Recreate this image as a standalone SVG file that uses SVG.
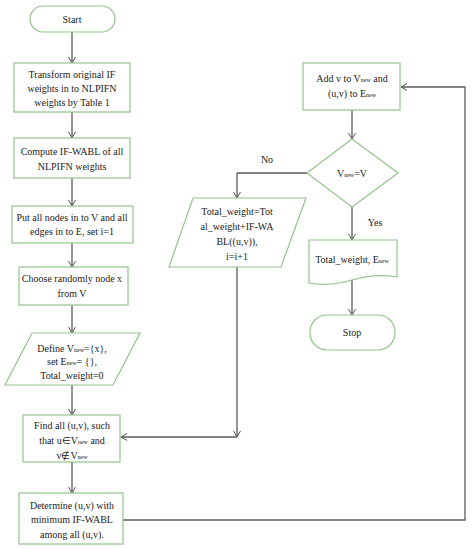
<svg xmlns="http://www.w3.org/2000/svg" width="474" height="549" viewBox="0 0 474 549">
<defs>
<marker id="arr" markerWidth="10" markerHeight="10" refX="7" refY="4" orient="auto" markerUnits="userSpaceOnUse">
<path d="M1,0.5 L7,4 L1,7.5" fill="none" stroke="#555" stroke-width="1"/>
</marker>
<style>
.n{fill:#fff;stroke:#92c48a;stroke-width:1.2}
.c{fill:none;stroke:#5a5a5a;stroke-width:1.3}
.a{marker-end:url(#arr)}
text{font-family:"Liberation Serif",serif;font-size:10px;fill:#222;text-anchor:middle}
.s{font-size:6px}
</style>
</defs>
<rect width="474" height="549" fill="#fff"/>
<g id="connectors">
<path class="c a" d="M72,32 V63"/>
<path class="c a" d="M72,112 V138"/>
<path class="c a" d="M72,178 V206"/>
<path class="c a" d="M72,243 V267"/>
<path class="c a" d="M72,305 V333"/>
<path class="c a" d="M72,385 V415"/>
<path class="c a" d="M72,462 V493"/>
<path class="c" d="M123,520 H465 V88"/>
<path class="c a" d="M465,88 V87 H401"/>
<path class="c a" d="M352,110 V139"/>
<path class="c" d="M307,173 H237"/>
<path class="c a" d="M237,173 V198"/>
<path class="c a" d="M237,267 V437"/>
<path class="c a" d="M237,437 H121"/>
<path class="c a" d="M352,207 V240"/>
<path class="c a" d="M352,280 V315"/>
</g>
<g id="start">
<rect class="n" x="30" y="6" width="85" height="26" rx="13"/>
<text x="72" y="23">Start</text>
</g>
<g id="transform">
<rect class="n" x="14" y="63" width="116" height="49"/>
<text x="72" y="78">Transform original IF</text>
<text x="72" y="92">weights in to NLPIFN</text>
<text x="72" y="106">weights by Table 1</text>
</g>
<g id="compute">
<rect class="n" x="14" y="138" width="116" height="40"/>
<text x="72" y="155">Compute IF-WABL of all</text>
<text x="72" y="170">NLPIFN weights</text>
</g>
<g id="putall">
<rect class="n" x="12" y="206" width="121" height="37"/>
<text x="72" y="221">Put all nodes in to V and all</text>
<text x="72" y="235">edges in to E, set i=1</text>
</g>
<g id="choose">
<rect class="n" x="19" y="267" width="109" height="38"/>
<text x="72" y="282">Choose randomly node x</text>
<text x="72" y="297">from V</text>
</g>
<g id="define">
<polygon class="n" points="32,333 140,333 113,385 5,385"/>
<text x="72" y="352">Define V<tspan class="s">new</tspan>={x},</text>
<text x="72" y="365">set E<tspan class="s">new</tspan>= {},</text>
<text x="72" y="379">Total_weight=0</text>
</g>
<g id="findall">
<rect class="n" x="23" y="415" width="97" height="47"/>
<text x="72" y="429">Find all (u,v), such</text>
<text x="72" y="444">that u∈V<tspan class="s">new</tspan> and</text>
<text x="72" y="459">v∉V<tspan class="s">new</tspan></text>
</g>
<g id="determine">
<rect class="n" x="19" y="493" width="104" height="51"/>
<text x="72" y="509">Determine (u,v) with</text>
<text x="72" y="523">minimum IF-WABL</text>
<text x="72" y="538">among all (u,v).</text>
</g>
<g id="update">
<polygon class="n" points="193,198 306,198 281,267 169,267"/>
<text x="237" y="215">Total_weight=Tot</text>
<text x="237" y="230">al_weight+IF-WA</text>
<text x="237" y="245">BL((u,v)),</text>
<text x="237" y="260">i=i+1</text>
</g>
<g id="add">
<rect class="n" x="303" y="63" width="97" height="47"/>
<text x="352" y="82">Add v to V<tspan class="s">new</tspan> and</text>
<text x="352" y="97">(u,v) to E<tspan class="s">new</tspan></text>
</g>
<g id="decision">
<polygon class="n" points="352,139 398,173 352,207 307,173"/>
<text x="352" y="177">V<tspan class="s">new</tspan>=V</text>
</g>
<g id="output">
<path class="n" d="M309,240 H397 V277 C380,274 366,276 352,280 C338,284 324,286 309,283 Z"/>
<text x="352" y="263">Total_weight, E<tspan class="s">new</tspan></text>
</g>
<g id="stop">
<rect class="n" x="310" y="315" width="85" height="35" rx="17"/>
<text x="352" y="336">Stop</text>
</g>
<g id="labels">
<text x="267" y="163">No</text>
<text x="375" y="226">Yes</text>
</g>
</svg>
